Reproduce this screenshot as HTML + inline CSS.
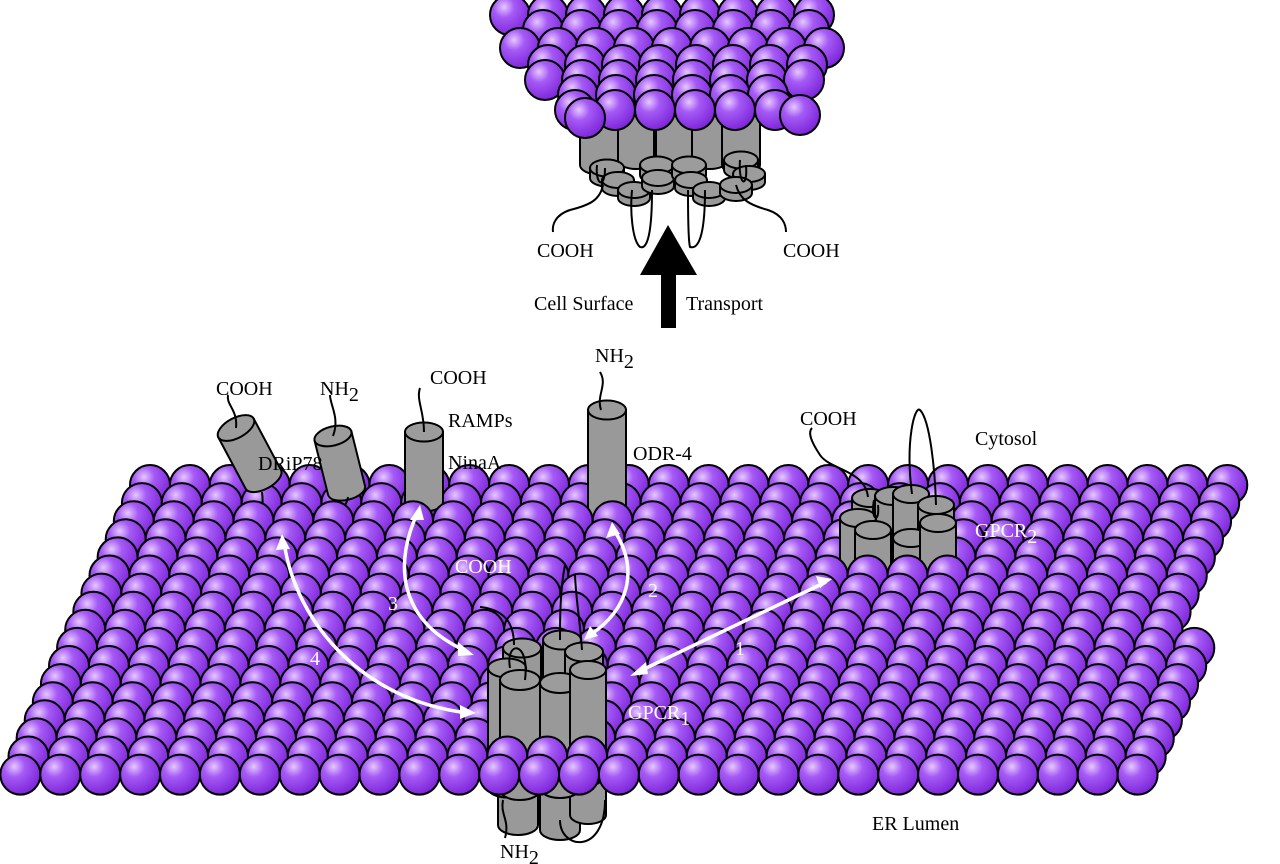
<!DOCTYPE html>
<html><head><meta charset="utf-8"><style>
html,body{margin:0;padding:0;background:#fff;}
svg{display:block;}
text{font-family:"Liberation Serif",serif;font-size:20px;}
</style></head><body>
<svg id="s" width="1280" height="864" viewBox="0 0 1280 864" xmlns="http://www.w3.org/2000/svg">
<defs>
<radialGradient id="g" cx="0.35" cy="0.3" r="0.75">
<stop offset="0" stop-color="#e6c8ff"/>
<stop offset="0.35" stop-color="#a55af5"/>
<stop offset="1" stop-color="#7a22d8"/>
</radialGradient>
</defs>
</svg>
<script>
var s=document.getElementById('s'),NS='http://www.w3.org/2000/svg';
function el(t,a,txt){var e=document.createElementNS(NS,t);for(var k in a)e.setAttribute(k,a[k]);if(txt!=null)e.textContent=txt;s.appendChild(e);return e;}
function ball(x,y,r){el('circle',{cx:x,cy:y,r:r||20,fill:'url(#g)',stroke:'#000','stroke-width':2});}
function cyl(x,y,w,h){var rx=w/2,ry=w*0.25;
 el('path',{d:'M'+x+' '+y+' L'+x+' '+(y+h)+' A'+rx+' '+ry+' 0 0 0 '+(x+w)+' '+(y+h)+' L'+(x+w)+' '+y+' Z',fill:'#999',stroke:'#000','stroke-width':2});
 el('ellipse',{cx:x+rx,cy:y,rx:rx,ry:ry,fill:'#9c9c9c',stroke:'#000','stroke-width':2});}
function tcyl(cx,cy,w,h,ang){var g=el('g',{transform:'translate('+cx+' '+cy+') rotate('+ang+')'});
 var rx=w/2,ry=w*0.25;
 var p=document.createElementNS(NS,'path');p.setAttribute('d','M'+(-rx)+' 0 L'+(-rx)+' '+h+' A'+rx+' '+ry+' 0 0 0 '+rx+' '+h+' L'+rx+' 0 Z');p.setAttribute('fill','#999');p.setAttribute('stroke','#000');p.setAttribute('stroke-width',2);g.appendChild(p);
 var e=document.createElementNS(NS,'ellipse');e.setAttribute('cx',0);e.setAttribute('cy',0);e.setAttribute('rx',rx);e.setAttribute('ry',ry);e.setAttribute('fill','#9c9c9c');e.setAttribute('stroke','#000');e.setAttribute('stroke-width',2);g.appendChild(e);}
function line(d,c,w){el('path',{d:d,fill:'none',stroke:c||'#000','stroke-width':w||2});}
function txt(x,y,t,c,sub){var e=el('text',{x:x,y:y,fill:c||'#000'},t);if(sub){var ts=document.createElementNS(NS,'tspan');ts.setAttribute('dy','6');ts.setAttribute('font-size','20');ts.textContent=sub;e.appendChild(ts);}}
function row(r){var y=485+r*18.1,xs=150-r*8.1,xe=1262-r*7.6;for(var x=xs;x<=xe+1;x+=39.9)ball(x,y,20);}
// ---------- top cluster ----------
cyl(580,105,38,60);cyl(618,105,36,55);cyl(656,105,36,60);cyl(692,105,36,55);cyl(722,105,38,60);
cyl(590,168,34,10);cyl(602,180,32,8);cyl(618,190,32,8);cyl(640,165,34,10);cyl(642,178,32,8);cyl(672,165,34,10);cyl(675,180,32,8);cyl(693,190,32,8);cyl(724,160,34,10);cyl(733,174,32,8);cyl(720,185,32,8);
var tr=[[15,510,850,38],[30,525,835,38],[48,520,830,38],[65,530,820,37],[80,545,805,37],[95,560,790,38],[110,575,780,40]];
tr.forEach(function(rw,i){var off=(i%2)*18;for(var x=rw[1]+off;x<=rw[2];x+=rw[3])ball(x,rw[0],20);});
ball(585,118,20);ball(800,115,20);
// top wires
line('M603 185 C600 200 590 205 570 210 C555 215 552 225 553 232');
line('M632 190 C630 210 632 240 640 247 C648 250 652 230 652 190');
line('M688 190 C688 210 688 240 690 247 C700 250 705 230 705 190');
line('M736 185 C740 200 750 205 768 210 C783 215 786 225 786 232');
line('M597 165 C595 185 605 190 605 168');line('M740 160 C738 185 748 190 746 165');
txt(537,257,'COOH');txt(783,257,'COOH');
el('rect',{x:661,y:272,width:15,height:56,fill:'#000'});
el('polygon',{points:'640,275 668,225 697,275',fill:'#000'});
txt(534,310,'Cell Surface');txt(686,310,'Transport');
// ---------- membrane ----------
cyl(498,780,40,45);cyl(540,785,40,45);cyl(570,770,36,45);
line('M503 800 C500 815 510 820 505 838');
line('M560 820 C560 850 605 855 605 800');
row(0);row(1);
cyl(405,432,38,70);cyl(588,410,38,108);
line('M601 410 C596 395 608 385 600 372');
line('M424 432 C424 410 416 400 420 388');
tcyl(236,428,40,58,-28);tcyl(333,436,38,56,-14);
line('M236 428 C238 410 226 405 228 395');
line('M333 436 C340 418 330 405 330 395');
line('M262 492 C266 520 250 525 280 528 C295 530 290 520 305 515 C320 512 345 518 348 497');
txt(216,395,'COOH');txt(320,395,'NH','#000','2');txt(430,384,'COOH');txt(595,362,'NH','#000','2');
txt(448,427,'RAMPs');txt(448,469,'NinaA');txt(258,470,'DRiP78');txt(633,460,'ODR-4');
row(2);row(3);row(4);
cyl(852,498,36,62);cyl(875,496,36,70);cyl(893,494,36,60);cyl(918,505,36,55);cyl(840,518,36,50);cyl(855,530,36,40);cyl(893,538,36,32);cyl(920,523,36,45);
line('M868 497 C865 470 830 470 820 455 C810 440 808 432 812 428');
line('M912 494 C905 440 915 405 920 410 C930 420 935 470 936 505');
line('M874 500 C870 520 880 525 878 505');
txt(800,425,'COOH');txt(975,445,'Cytosol');
for(var r=5;r<=14;r++)row(r);
cyl(503,648,38,130);cyl(543,640,38,140);cyl(565,652,38,125);cyl(488,668,38,120);cyl(500,680,40,110);cyl(540,683,40,105);cyl(570,670,36,105);
line('M514 645 C514 630 510 610 480 607');
line('M560 640 C560 620 560 590 565 565');
line('M582 650 C580 620 576 600 575 575');
line('M510 668 C505 640 530 640 525 680');
row(15);row(16);
txt(975,537,'GPCR','#fff','2');txt(455,573,'COOH','#fff');txt(628,719,'GPCR','#fff','1');
txt(872,830,'ER Lumen');txt(500,858,'NH','#000','2');
function wa(d){line(d,'#fff',3.5);}
wa('M638 672 L826 582');
el('polygon',{points:'630,676 646,662 648,674',fill:'#fff'});el('polygon',{points:'832,579 816,576 820,588',fill:'#fff'});
wa('M614 530 C640 570 628 610 590 635');
el('polygon',{points:'612,522 606,538 620,534',fill:'#fff'});el('polygon',{points:'584,640 590,626 598,636',fill:'#fff'});
wa('M418 512 C395 560 395 620 468 652');
el('polygon',{points:'420,505 410,520 424,520',fill:'#fff'});el('polygon',{points:'474,655 458,642 458,656',fill:'#fff'});
wa('M284 542 C295 620 360 700 468 713');
el('polygon',{points:'282,534 276,550 290,549',fill:'#fff'});el('polygon',{points:'476,713 460,705 460,719',fill:'#fff'});
txt(388,610,'3','#fff');txt(648,597,'2','#fff');txt(735,655,'1','#fff');txt(310,665,'4','#fff');
</script>
</body></html>
